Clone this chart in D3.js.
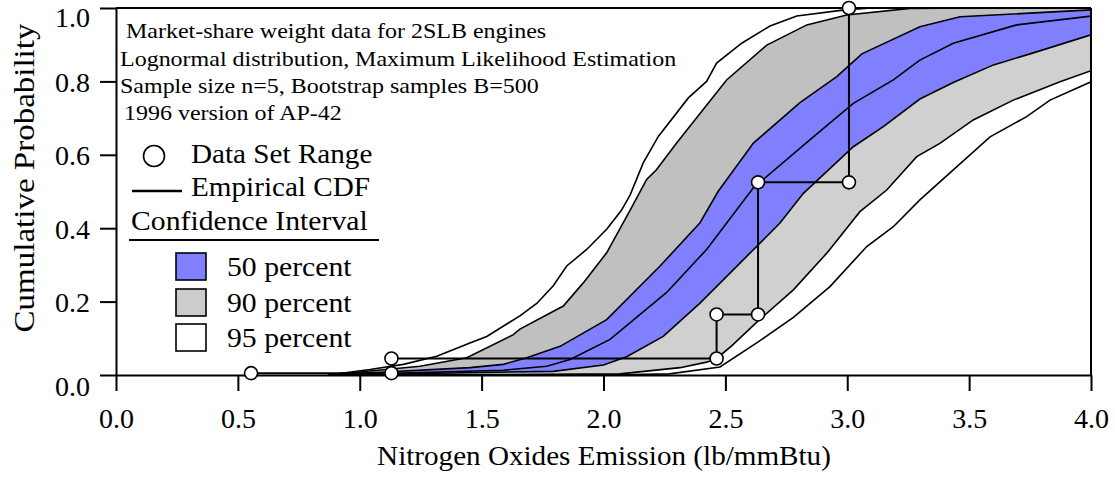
<!DOCTYPE html>
<html>
<head>
<meta charset="utf-8">
<script src="https://cdn.jsdelivr.net/npm/d3@7"></script>
<style>
  body { margin: 0; background: #fff; }
  text { font-family: "Liberation Serif", "DejaVu Serif", serif !important; fill: #000; }
  .axis path, .axis line { stroke: #000; stroke-width: 2; }
  .axis text { font-size: 28px; }
</style>
</head>
<body>
<div id="chart"></div>
<script>
// bootstrap confidence bands, [emission, cumulative probability]
var upper95 = [[0.87,0],[1.042,0.015],[1.179,0.029],[1.316,0.051],[1.452,0.087],[1.521,0.105],[1.657,0.161],
  [1.726,0.195],[1.794,0.243],[1.849,0.297],[1.931,0.342],[2.013,0.397],[2.073,0.448],[2.109,0.49],[2.163,0.578],
  [2.225,0.65],[2.348,0.755],[2.423,0.80],[2.464,0.85],[2.567,0.904],[2.683,0.951],[2.793,0.978],[2.99,0.995],[3.1,1.0],[4.0,1.0]];
var upper90 = [[0.87,0],[1.247,0.024],[1.439,0.047],[1.63,0.11],[1.657,0.125],[1.835,0.188],[1.917,0.251],[2.013,0.333],
  [2.11,0.45],[2.177,0.533],[2.218,0.56],[2.30,0.632],[2.505,0.804],[2.67,0.899],[2.834,0.954],
  [2.998,0.981],[3.257,0.999],[3.5,1.0],[4.0,1.0]];
var upper50 = [[0.87,0],[1.452,0.02],[1.589,0.029],[1.685,0.047],[1.822,0.078],[2.013,0.151],[2.232,0.297],[2.396,0.415],
  [2.47,0.50],[2.615,0.632],[2.806,0.742],[2.957,0.813],[3.06,0.875],[3.298,0.949],[3.463,0.976],[4.0,0.995]];
var medianFit = [[0.87,0],[1.589,0.013],[1.767,0.024],[1.863,0.042],[2.027,0.097],[2.259,0.225],[2.423,0.342],[2.615,0.51],
  [2.861,0.649],[3.025,0.74],[3.189,0.804],[3.298,0.858],[3.435,0.904],[3.695,0.954],[4.0,0.978]];
var lower50 = [[0.87,0],[1.794,0.01],[2.0,0.027],[2.095,0.05],[2.245,0.105],[2.396,0.196],[2.56,0.305],[2.724,0.414],
  [2.82,0.495],[3.025,0.622],[3.148,0.677],[3.298,0.752],[3.435,0.797],[3.6,0.845],[3.75,0.875],[4.0,0.927]];
var lower90 = [[0.87,0],[1.6,0.001],[2.068,0.003],[2.314,0.02],[2.423,0.035],[2.464,0.045],[2.527,0.08],[2.642,0.152],
  [2.779,0.232],[2.916,0.332],[3.052,0.445],[3.162,0.504],[3.285,0.595],[3.38,0.631],[3.517,0.695],[3.681,0.749],
  [3.873,0.799],[4.0,0.829]];
var lower95 = [[0.87,0],[2.0,0],[2.27,0.003],[2.478,0.022],[2.63,0.088],[2.779,0.157],[2.929,0.241],[3.08,0.35],
  [3.189,0.404],[3.298,0.477],[3.435,0.559],[3.586,0.649],[3.736,0.704],[3.832,0.749],[4.0,0.799]];

// data set (market-share weighted empirical CDF)
var dataX = [0.554, 1.13, 2.464, 2.634, 3.007];
var dataCdf = [0.005, 0.045, 0.165, 0.525, 1.0];

var xTicks = [0, 0.5, 1.0, 1.5, 2.0, 2.5, 3.0, 3.5, 4.0];
var xMinor = [0.25, 0.75, 1.25, 1.75, 2.25, 2.75, 3.25, 3.75];
var yTicks = [0, 0.2, 0.4, 0.6, 0.8, 1.0];
var yMinor = [0.1, 0.3, 0.5, 0.7, 0.9];

var titleLines = ["Market-share weight data for 2SLB engines",
  "Lognormal distribution, Maximum Likelihood Estimation",
  "Sample size n=5, Bootstrap samples B=500",
  "1996 version of AP-42"];
var bandNames = ["50 percent", "90 percent", "95 percent"];
var bandColors = ["#8080ff", "#cccccc", "#ffffff"];

var W = 1115, H = 479;
var svg = d3.select("#chart").append("svg").attr("width", W).attr("height", H);

var x = d3.scaleLinear().domain([0, 4]).range([116, 1091]);
var y = d3.scaleLinear().domain([0, 1]).range([375, 8]);

// stretch text horizontally to match the original's wide glyphs
function stretch(sel, f) {
  sel.each(function() {
    var w = this.getComputedTextLength();
    d3.select(this).attr("textLength", w * f).attr("lengthAdjust", "spacingAndGlyphs");
  });
}

svg.append("clipPath").attr("id", "plot")
  .append("rect").attr("x", x(0)).attr("y", y(1)).attr("width", x(4) - x(0)).attr("height", y(0) - y(1));

var plot = svg.append("g").attr("clip-path", "url(#plot)");
var line = d3.line().x(function(d) { return x(d[0]); }).y(function(d) { return y(d[1]); });

function band(a, b) { return a.concat(b.slice().reverse()); }

plot.append("path").attr("d", line(band(upper90, upper50)) + "Z").attr("fill", "#c0c0c0");
plot.append("path").attr("d", line(band(lower50, lower90)) + "Z").attr("fill", "#d0d0d0");
plot.append("path").attr("d", line(band(upper50, lower50)) + "Z").attr("fill", "#8080ff");

[upper95, upper90, upper50, medianFit, lower50, lower90, lower95].forEach(function(c) {
  plot.append("path").attr("d", line(c)).attr("fill", "none").attr("stroke", "#000").attr("stroke-width", 1.6);
});

// empirical CDF steps
var emp = dataX.map(function(v, i) { return [v, dataCdf[i]]; });
svg.append("path")
  .attr("d", d3.line().curve(d3.curveStepAfter).x(function(d) { return x(d[0]); }).y(function(d) { return y(d[1]); })(emp))
  .attr("fill", "none").attr("stroke", "#000").attr("stroke-width", 2);

var pts = [];
dataX.forEach(function(v, i) {
  if (i > 0) pts.push([v, dataCdf[i - 1]]);
  pts.push([v, dataCdf[i]]);
});

// axes
var gx = svg.append("g").attr("class", "axis").attr("transform", "translate(0," + y(0) + ")");
gx.call(d3.axisBottom(x).tickValues(xMinor).tickSize(9).tickSizeOuter(0).tickFormat(""));
gx.call(d3.axisBottom(x).tickValues(xTicks).tickSize(16).tickSizeOuter(0).tickFormat(d3.format(".1f")));
gx.selectAll("text").attr("y", 53).attr("dy", 0);

var gy = svg.append("g").attr("class", "axis").attr("transform", "translate(" + x(0) + ",0)");
gy.call(d3.axisLeft(y).tickValues(yMinor).tickSize(8).tickSizeOuter(0).tickFormat(""));
gy.call(d3.axisLeft(y).tickValues(yTicks).tickSize(16).tickSizeOuter(0).tickFormat(d3.format(".1f")));
gy.selectAll("text").attr("x", -26).attr("dy", 0)
  .attr("y", function(d) { return d === 1 ? 18 : (d === 0 ? 20 : 10); });

// frame
svg.append("line").attr("x1", x(0)).attr("x2", x(4)).attr("y1", y(1)).attr("y2", y(1)).attr("stroke", "#000").attr("stroke-width", 2);
svg.append("line").attr("x1", x(4)).attr("x2", x(4)).attr("y1", y(1)).attr("y2", y(0)).attr("stroke", "#000").attr("stroke-width", 2);

svg.selectAll("circle.pt").data(pts).enter().append("circle").attr("class", "pt")
  .attr("cx", function(d) { return x(d[0]); }).attr("cy", function(d) { return y(d[1]); })
  .attr("r", 6.5).attr("fill", "#fff").attr("stroke", "#000").attr("stroke-width", 1.6);

// axis titles
svg.append("text").attr("x", 604).attr("y", 465).attr("text-anchor", "middle")
  .style("font-size", "28px").text("Nitrogen Oxides Emission (lb/mmBtu)").call(stretch, 1.04);
svg.append("text").attr("transform", "translate(34,178) rotate(-90)").attr("text-anchor", "middle")
  .style("font-size", "30px").text("Cumulative Probability").call(stretch, 1.1);

// note block
var lineY = [38, 66, 93, 120];
var lineX = [126, 120, 120, 124];
svg.selectAll("text.note").data(titleLines).enter().append("text").attr("class", "note")
  .attr("x", function(d, i) { return lineX[i]; }).attr("y", function(d, i) { return lineY[i]; })
  .style("font-size", "22px").text(function(d) { return d; }).call(stretch, 1.09);

// legend
var leg = svg.append("g");
leg.append("circle").attr("cx", 154).attr("cy", 156).attr("r", 10.5).attr("fill", "#fff").attr("stroke", "#000").attr("stroke-width", 1.6);
leg.append("text").attr("x", 191).attr("y", 163).style("font-size", "27px").text("Data Set Range").call(stretch, 1.08);
leg.append("line").attr("x1", 132).attr("x2", 182).attr("y1", 191).attr("y2", 191).attr("stroke", "#000").attr("stroke-width", 2.5);
leg.append("text").attr("x", 191).attr("y", 196).style("font-size", "27px").text("Empirical CDF").call(stretch, 1.08);
leg.append("text").attr("x", 131).attr("y", 230).style("font-size", "27px").text("Confidence Interval").call(stretch, 1.1);
leg.append("line").attr("x1", 129).attr("x2", 379).attr("y1", 240).attr("y2", 240).attr("stroke", "#000").attr("stroke-width", 2);

var rowY = [253, 289, 324];
bandNames.forEach(function(n, i) {
  leg.append("rect").attr("x", 176).attr("y", rowY[i]).attr("width", 30).attr("height", 27)
    .attr("fill", bandColors[i]).attr("stroke", "#000").attr("stroke-width", 1.6);
  leg.append("text").attr("x", 227).attr("y", rowY[i] + 23).style("font-size", "27px").text(n).call(stretch, 1.1);
});
</script>
</body>
</html>
